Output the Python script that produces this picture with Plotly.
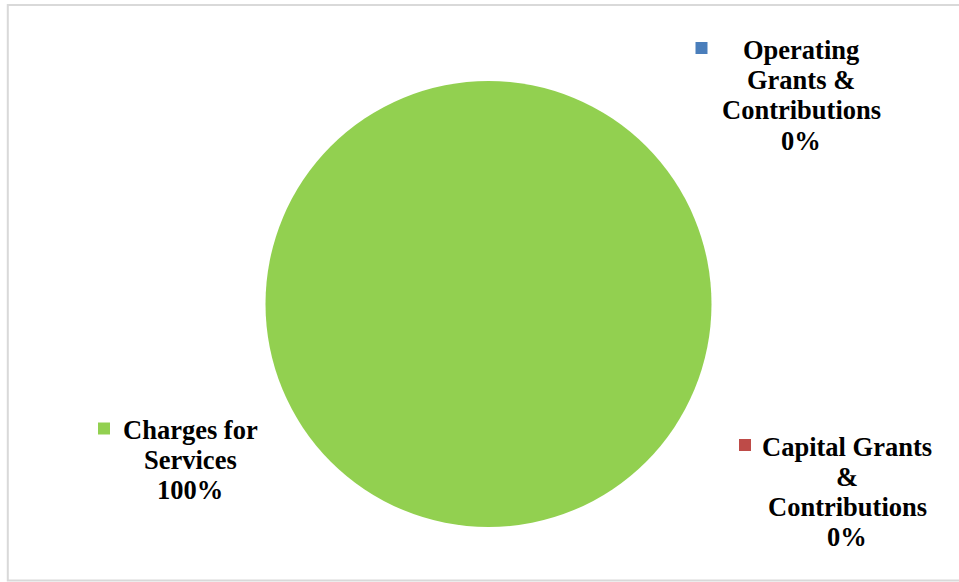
import plotly.graph_objects as go

W, H = 959, 582

categories = ["Operating Grants & Contributions", "Capital Grants & Contributions", "Charges for Services"]
label_lines = [
    ["Operating", "Grants &", "Contributions"],
    ["Capital Grants", "&", "Contributions"],
    ["Charges for", "Services"],
]
values = [0, 0, 100]
colors = ["#4A7EBB", "#BE4B48", "#92D050"]

total = sum(values)
pcts = [round(v / total * 100) for v in values]

# pie geometry in pixels
cx, cy, r = 488.5, 304, 223


def px(x):
    return x / W


def py(y):
    return 1 - y / H


fig = go.Figure()
fig.add_trace(go.Pie(
    labels=categories,
    values=values,
    marker=dict(colors=colors, line=dict(width=0)),
    textinfo="none",
    hoverinfo="label+percent",
    sort=False,
    direction="clockwise",
    rotation=0,
    showlegend=False,
    domain=dict(x=[px(cx - r), px(cx + r)], y=[py(cy + r), py(cy - r)]),
))

FS = 26.5
font = dict(family="Liberation Serif, Times New Roman, serif", size=FS, color="#000000")
LINE = 30.2

# label blocks: text center x, first baseline y, marker center x, y
label_pos = [
    (801, 59.0, 701.5, 48),
    (847, 455.5, 745, 445),
    (190, 438.5, 104, 428.5),
]

for i, (tx, by, mx, my) in enumerate(label_pos):
    lines = label_lines[i] + [f"{pcts[i]}%"]
    for j, ln in enumerate(lines):
        base = by + j * LINE
        fig.add_annotation(
            x=px(tx), y=py(base - 0.3375 * FS), xref="paper", yref="paper",
            xanchor="center", yanchor="middle", align="center",
            text=f"<b>{ln}</b>",
            showarrow=False, font=font,
        )
    s = 6
    fig.add_shape(
        type="rect", xref="paper", yref="paper",
        x0=px(mx - s), x1=px(mx + s), y0=py(my + s), y1=py(my - s),
        fillcolor=colors[i], line=dict(width=0),
    )

# chart border
fig.add_shape(
    type="rect", xref="paper", yref="paper",
    x0=px(7.8), x1=px(965), y0=py(580.5), y1=py(5),
    line=dict(color="#D9D9D9", width=2), fillcolor="rgba(0,0,0,0)",
)

fig.update_layout(
    width=W, height=H,
    margin=dict(l=0, r=0, t=0, b=0),
    paper_bgcolor="white", plot_bgcolor="white",
)

fig.write_html("out.html", config={"displayModeBar": False},
               post_script="document.body.style.margin='0';")
